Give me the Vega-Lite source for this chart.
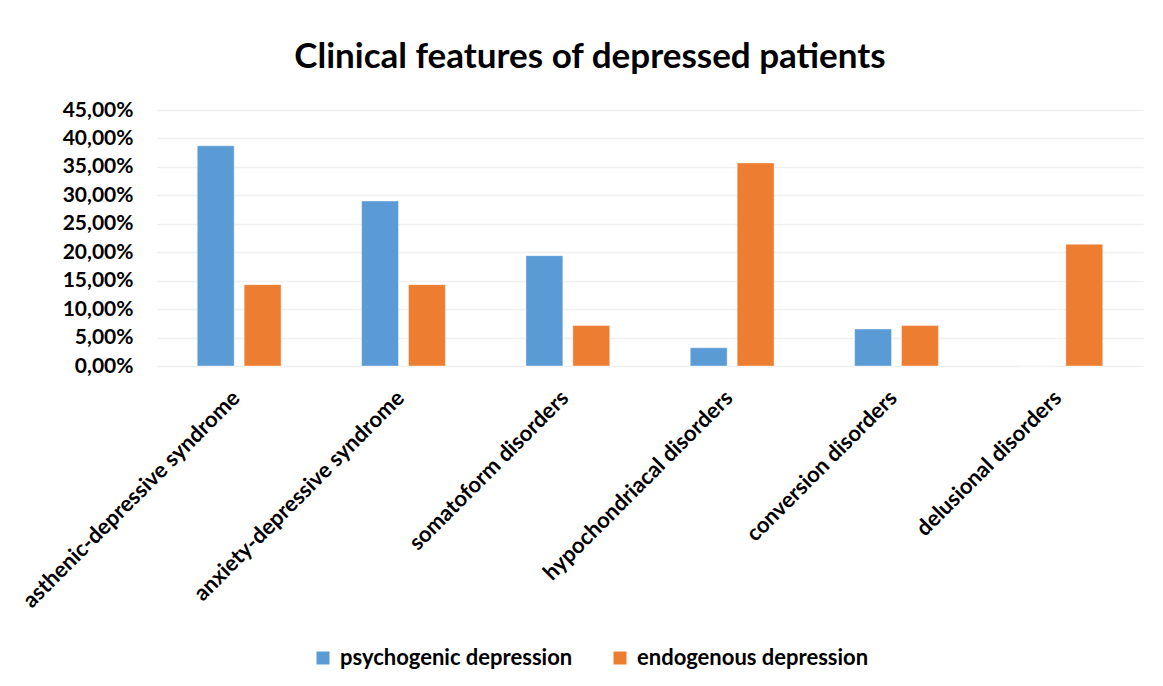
{
  "$schema": "https://vega.github.io/schema/vega-lite/v6.json",
  "autosize": {"type": "none"},
  "width": 986,
  "height": 256,
  "padding": {"left": 157, "top": 110, "right": 20, "bottom": 320},
  "background": "white",
  "title": {
    "text": "Clinical features of depressed patients",
    "font": "Lato",
    "fontSize": 35,
    "fontWeight": "bold",
    "color": "#000000",
    "anchor": "middle",
    "dx": -60,
    "offset": 24
  },
  "data": {
    "values": [
      {"category": "asthenic-depressive syndrome", "group": "psychogenic depression", "value": 0.387},
      {"category": "asthenic-depressive syndrome", "group": "endogenous depression", "value": 0.143},
      {"category": "anxiety-depressive syndrome", "group": "psychogenic depression", "value": 0.290},
      {"category": "anxiety-depressive syndrome", "group": "endogenous depression", "value": 0.143},
      {"category": "somatoform disorders", "group": "psychogenic depression", "value": 0.194},
      {"category": "somatoform disorders", "group": "endogenous depression", "value": 0.071},
      {"category": "hypochondriacal disorders", "group": "psychogenic depression", "value": 0.032},
      {"category": "hypochondriacal disorders", "group": "endogenous depression", "value": 0.357},
      {"category": "conversion disorders", "group": "psychogenic depression", "value": 0.065},
      {"category": "conversion disorders", "group": "endogenous depression", "value": 0.071},
      {"category": "delusional disorders", "group": "psychogenic depression", "value": 0.0},
      {"category": "delusional disorders", "group": "endogenous depression", "value": 0.214}
    ]
  },
  "mark": {"type": "bar", "stroke": "white", "strokeOpacity": 0.4, "strokeWidth": 1},
  "encoding": {
    "x": {
      "field": "category",
      "type": "nominal",
      "sort": null,
      "scale": {"paddingInner": 0.49, "paddingOuter": 0.245},
      "axis": {
        "title": null,
        "labelAngle": -45,
        "labelAlign": "right",
        "labelBaseline": "middle",
        "labelFont": "Lato",
        "labelFontSize": 22,
        "labelFontWeight": "bold",
        "labelColor": "#000000",
        "labelPadding": 28,
        "labelOffset": -3,
        "labelLimit": 400,
        "ticks": false,
        "domain": false,
        "grid": false
      }
    },
    "xOffset": {
      "field": "group",
      "type": "nominal",
      "sort": ["psychogenic depression", "endogenous depression"],
      "scale": {"paddingInner": 0.213}
    },
    "y": {
      "field": "value",
      "type": "quantitative",
      "scale": {"domain": [0, 0.45], "nice": false},
      "axis": {
        "title": null,
        "values": [0, 0.05, 0.1, 0.15, 0.2, 0.25, 0.3, 0.35, 0.4, 0.45],
        "labelExpr": "replace(format(datum.value, '.2%'), '.', ',')",
        "labelFont": "Lato",
        "labelFontSize": 21,
        "labelFontWeight": "bold",
        "labelColor": "#000000",
        "labelPadding": 24,
        "ticks": false,
        "domain": false,
        "gridColor": "#f0f0f0",
        "gridWidth": 1.5
      }
    },
    "color": {
      "field": "group",
      "type": "nominal",
      "sort": ["psychogenic depression", "endogenous depression"],
      "scale": {"domain": ["psychogenic depression", "endogenous depression"], "range": ["#5b9bd5", "#ed7d31"]},
      "legend": {
        "title": null,
        "orient": "none",
        "direction": "horizontal",
        "legendX": 155,
        "legendY": 537,
        "symbolType": "square",
        "symbolSize": 169,
        "symbolStrokeWidth": 0,
        "labelFont": "Lato",
        "labelFontSize": 22,
        "labelFontWeight": "bold",
        "labelColor": "#000000",
        "labelLimit": 400,
        "columnPadding": 36,
        "labelOffset": 6
      }
    }
  },
  "config": {"view": {"stroke": null}}
}
